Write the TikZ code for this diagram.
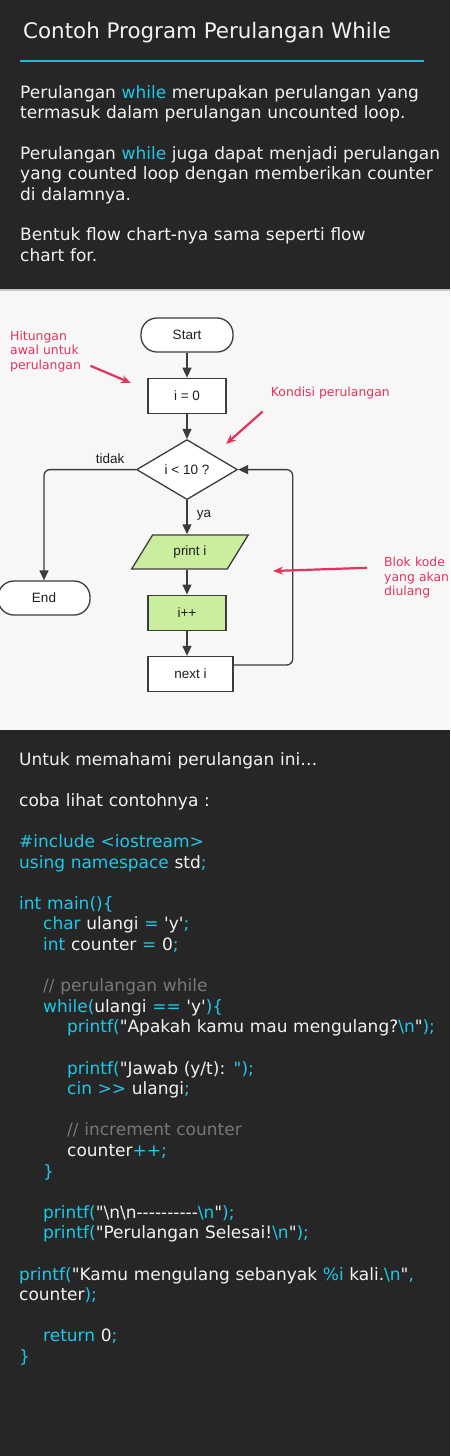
\documentclass[tikz,border=0pt]{standalone}
\usepackage{fontspec}
\newfontfamily\verd{DejaVu Sans}
\newfontfamily\arialf{Liberation Sans}
\usetikzlibrary{arrows.meta,positioning,shapes.geometric}

\definecolor{darkbg}{RGB}{38,38,38}
\definecolor{panelbg}{RGB}{247,247,247}
\definecolor{kwcyan}{RGB}{30,200,232}
\definecolor{rulecyan}{RGB}{30,184,216}
\definecolor{codewhite}{RGB}{242,242,242}
\definecolor{cmtgray}{RGB}{120,120,120}
\definecolor{notered}{RGB}{226,51,93}
\definecolor{boxgreen}{RGB}{203,238,158}
\definecolor{linegray}{RGB}{60,60,60}
\definecolor{inkblack}{RGB}{30,30,30}

\newcommand{\kw}[1]{\textcolor{kwcyan}{#1}}
\newcommand{\cmt}[1]{\textcolor{cmtgray}{#1}}
\newcommand{\bsl}{\textbackslash}
\newcommand{\ind}{\hspace*{24pt}}

\begin{document}
\begin{tikzpicture}[x=1pt,y=-1pt,>={Triangle[length=10pt,width=9pt]},node distance=25pt,
    chart font/.style={font=\arialf\fontsize{13.5}{16}\selectfont,text=inkblack},
    terminal/.style={rectangle,rounded corners=16pt,draw=linegray,line width=1.3pt,fill=white,
                     minimum width=92pt,minimum height=34pt,chart font},
    process/.style={rectangle,draw=linegray,line width=1.3pt,fill=white,
                    minimum width=78pt,minimum height=35pt,chart font},
    decision/.style={diamond,draw=linegray,line width=1.3pt,fill=white,inner sep=0pt,
                     minimum width=101pt,minimum height=60pt,chart font},
    io/.style={trapezium,trapezium left angle=60,trapezium right angle=120,trapezium stretches=true,
               draw=linegray,line width=1.3pt,fill=boxgreen,minimum width=117pt,minimum height=34pt,chart font},
    flow/.style={->,draw=linegray,line width=1.3pt},
    note/.style={anchor=base west,inner sep=0pt,align=left,text=notered,
                 font=\verd\fontsize{12.4}{14.5}\selectfont},
    callout/.style={-{Stealth[length=10pt,width=8pt]},draw=notered,line width=2.2pt},
    darktext/.style={anchor=base west,inner sep=0pt,align=left,text=codewhite,
                     font=\verd\fontsize{17}{20.6}\selectfont}]

  \useasboundingbox (0,0) rectangle (450,1456);

  % panels
  \fill[darkbg] (0,0) rectangle (450,289);
  \fill[panelbg] (0,290) rectangle (450,730);
  \fill[darkbg] (0,731) rectangle (450,1456);
  \fill[gray!45] (0,289) rectangle (450,290.5);
  \fill[black!85] (0,729.5) rectangle (450,731);

  % header
  \node[anchor=base west,inner sep=0pt,text=codewhite,font=\verd\fontsize{21.4}{24}\selectfont]
    (title) at (23,38.3) {Contoh Program Perulangan While};
  \draw[rulecyan,line width=1.5pt] (20,61) -- (424,61);

  \node[darktext,text width=428pt,font=\verd\fontsize{17}{20.4}\selectfont] (intro) at (20,98)
    {Perulangan \kw{while} merupakan perulangan yang\\
     termasuk dalam perulangan uncounted loop.\\[20.4pt]
     Perulangan \kw{while} juga dapat menjadi perulangan\\
     yang counted loop dengan memberikan counter\\
     di dalamnya.\\[20.4pt]
     Bentuk flow chart-nya sama seperti flow\\
     chart for.};

  % flow chart
  \node[terminal] (start) at (187,335) {Start};
  \node[process] (init) [below=of start] {i = 0};
  \node[decision] (cond) [below=of init] {i < 10 ?};
  \node[io] (print) [below=34pt of cond,xshift=3pt] {print i};
  \node[process,fill=boxgreen] (inc) [below=of print,xshift=-3pt] {i++};
  \node[process,minimum width=85pt] (next) [below=of inc.south west,anchor=north west] {next i};
  \node[terminal] (end) at (44,598) {End};

  \path
    (start) edge[flow] (init)
    (init) edge[flow] (cond)
    (cond) edge[flow] node[chart font,right=6pt,pos=0.45] {ya} (cond.south |- print.north)
    (inc.north |- print.south) edge[flow] (inc)
    (inc) edge[flow] (inc.south |- next.north);

  \draw[flow,rounded corners=6pt] (cond.west) -| node[chart font,above=2pt,pos=0.14] {tidak} (end.north);
  \draw[flow,rounded corners=6pt] ([yshift=9pt]next.east) -- ++(59,0) |- (cond.east);

  % notes
  \node[note,text width=80pt] (noteinit) at (10,340) {Hitungan\\awal untuk\\perulangan};
  \node[note] (notecond) at (270.7,396.7) {Kondisi perulangan};
  \node[note,text width=70pt] (noteloop) at (384,566.7) {Blok kode\\yang akan\\diulang};

  \coordinate (tipinit) at (131,383);
  \coordinate (tipcond) at (226,444);
  \coordinate (tiploop) at (273,571);

  \draw[callout] ([yshift=6pt]noteinit.south east) -- (tipinit);
  \draw[callout] ([xshift=-8pt,yshift=-12pt]notecond.south west) -- (tipcond);
  \draw[callout] ([xshift=-17pt,yshift=10pt]noteloop.west) -- (tiploop);

  % code
  \node[darktext,text width=428pt] (code) at (19,765)
    {Untuk memahami perulangan ini…\\[20.6pt]
     coba lihat contohnya :\\[20.6pt]
     \kw{\#include <iostream>}\\
     \kw{using namespace} std\kw{;}\\[20.6pt]
     \kw{int main()\{}\\
     \ind\kw{char} ulangi \kw{=} 'y'\kw{;}\\
     \ind\kw{int} counter \kw{=} 0\kw{;}\\[20.6pt]
     \ind\cmt{// perulangan while}\\
     \ind\kw{while(}ulangi \kw{==} 'y'\kw{)\{}\\
     \ind\ind\kw{printf(}"Apakah kamu mau mengulang?\kw{\bsl n}"\kw{);}\\[20.6pt]
     \ind\ind\kw{printf(}"Jawab (y/t): \kw{");}\\
     \ind\ind\kw{cin >{}>} ulangi\kw{;}\\[20.6pt]
     \ind\ind\cmt{// increment counter}\\
     \ind\ind counter\kw{++;}\\
     \ind\kw{\}}\\[20.6pt]
     \ind\kw{printf(}"\bsl n\bsl n----------\kw{\bsl n}"\kw{);}\\
     \ind\kw{printf(}"Perulangan Selesai!\kw{\bsl n}"\kw{);}\\[20.6pt]
     \kw{printf(}"Kamu mengulang sebanyak \kw{\%i} kali.\kw{\bsl n}"\kw{,}\\
     counter\kw{);}\\[20.6pt]
     \ind\kw{return} 0\kw{;}\\
     \kw{\}}};

\end{tikzpicture}
\end{document}
